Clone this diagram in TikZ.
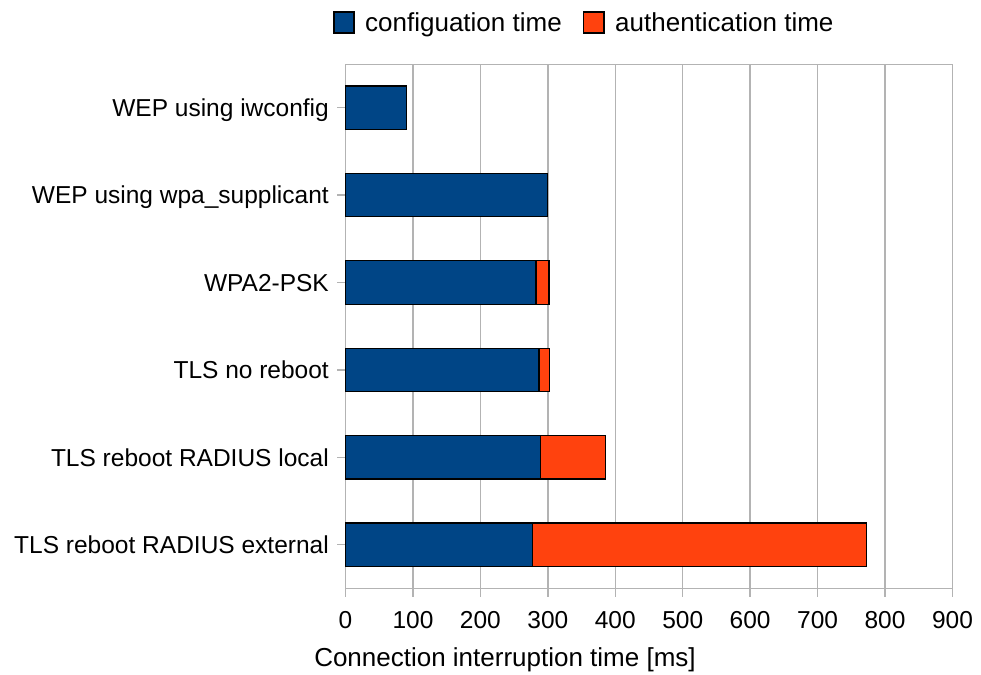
\documentclass[tikz,border=0pt]{standalone}
\usepackage{fontspec}
\setmainfont{Liberation Sans}
\definecolor{cfgblue}{HTML}{004586}
\definecolor{authorange}{HTML}{FF420E}
\definecolor{gridgray}{HTML}{B3B3B3}

\begin{document}
\begin{tikzpicture}[x=1pt,y=-1pt,
  gridline/.style={draw=gridgray,line width=1.4pt},
  barbox/.style={draw=black,line width=1.2pt},
  lbl/.style={font=\fontsize{24.5}{29}\selectfont,inner sep=0pt},
  biglbl/.style={font=\fontsize{26}{31}\selectfont,inner sep=0pt},
]
\useasboundingbox[fill=white] (0,0) rectangle (981,674);
\def\xo{345.5}
\def\xs{0.6744}

% value grid, axis ticks below the plot and tick labels
\foreach \v in {0,100,...,900} {
  \draw[gridline] ({\xo+\v*\xs},64.7) -- ({\xo+\v*\xs},597);
  \node[lbl,anchor=base] (tick\v) at ({\xo+\v*\xs},628.3) {\v};
}
% plot frame
\draw[gridline] (\xo,64.7) -- (952.5,64.7) -- (952.5,588.3) -- (\xo,588.3) -- cycle;

% bars: index / centre / configuration end / total end / label
\foreach \i/\c/\cfg/\tot/\txt in {
  1/107.7/91/91/{WEP using iwconfig},
  2/195.1/300/300/{WEP using wpa\_supplicant},
  3/282.5/282.5/301.7/{WPA2-PSK},
  4/369.9/287/303/{TLS no reboot},
  5/457.3/289.4/385/{TLS reboot RADIUS local},
  6/544.7/277.5/772/{TLS reboot RADIUS external}} {
  \draw[gridline] (337,\c) -- (\xo,\c);
  \node[lbl,anchor=base east] (cat\i) at (329,\c+8.7) {\txt};
  \ifdim\tot pt>\cfg pt
    \filldraw[barbox,fill=authorange] ({\xo+\cfg*\xs},\c-21.7) rectangle ({\xo+\tot*\xs},\c+21.7);
  \fi
  \filldraw[barbox,fill=cfgblue] (\xo,\c-21.7) rectangle ({\xo+\cfg*\xs},\c+21.7);
}

% axis title
\node[biglbl,anchor=base] (xtitle) at (505,666.5) {Connection interruption time [ms]};

% legend
\filldraw[barbox,fill=cfgblue] (334,12) rectangle (354,33);
\node[biglbl,anchor=base west] (legcfg) at (365,31.7) {configuation time};
\filldraw[barbox,fill=authorange] (583.5,12) rectangle (604,33);
\node[biglbl,anchor=base west] (legauth) at (615,31.7) {authentication time};
\end{tikzpicture}
\end{document}
